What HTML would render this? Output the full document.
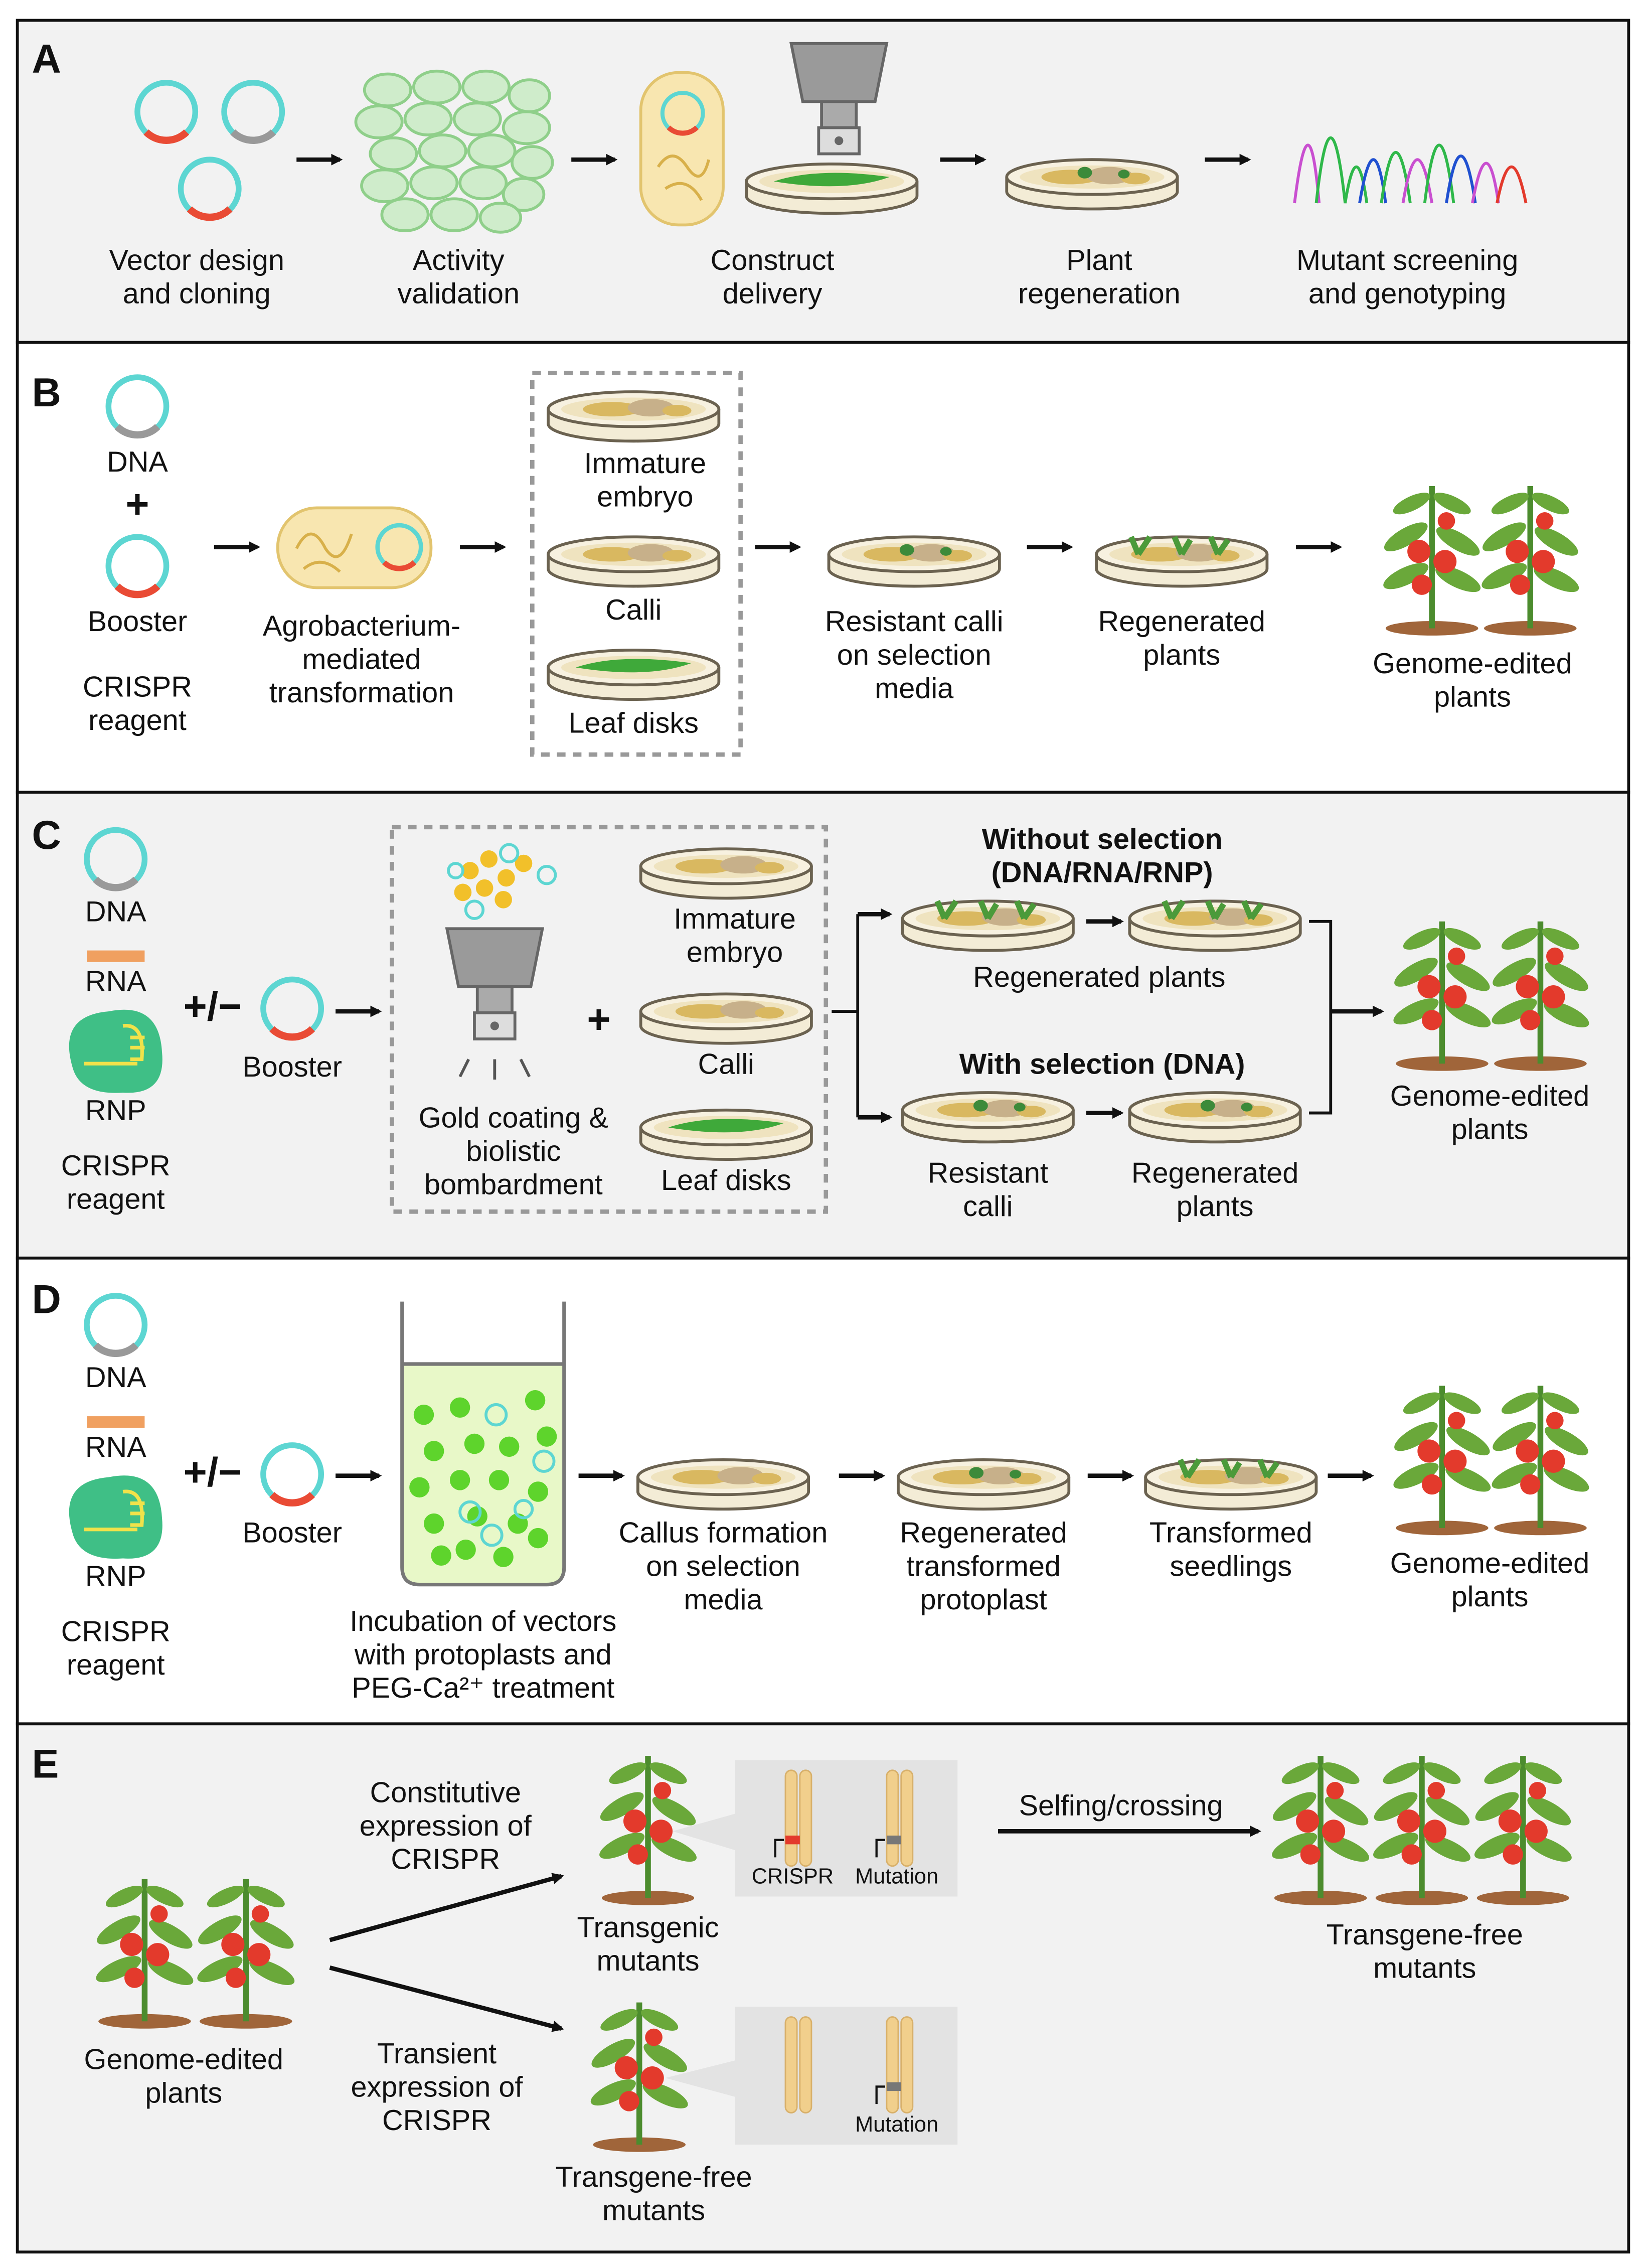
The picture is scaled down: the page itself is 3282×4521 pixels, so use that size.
<!DOCTYPE html>
<html><head><meta charset="utf-8"><style>
html,body{margin:0;padding:0;background:#fff}
svg{display:block}
text{font-family:"Liberation Sans",sans-serif;font-size:20px;fill:#111;text-anchor:middle}
.b{font-weight:bold}
.L{font-size:28px;font-weight:bold;text-anchor:start}
.s{font-size:15px}
</style></head><body>
<svg width="3282" height="4521" viewBox="0 0 1138 1563" preserveAspectRatio="none" xmlns="http://www.w3.org/2000/svg">
<defs>
<marker id="ah" markerWidth="8" markerHeight="8" refX="6" refY="4" orient="auto" markerUnits="userSpaceOnUse"><path d="M0,0 L8,4 L0,8 Z" fill="#111"/></marker>
<g id="pl"><circle r="20" fill="none" stroke="#5dd6d2" stroke-width="4"/><path d="M-14,14 A20,20 0 0 0 14,14" fill="none" stroke="#e94b35" stroke-width="5"/></g>
<g id="pg"><circle r="20" fill="none" stroke="#5dd6d2" stroke-width="4"/><path d="M-14,14 A20,20 0 0 0 14,14" fill="none" stroke="#999" stroke-width="5"/></g>
<g id="dish"><path d="M-59,0 L-59,10 A59,12 0 0 0 59,10 L59,0" fill="#f3ecd6" stroke="#6b6250" stroke-width="2"/><ellipse rx="59" ry="12" fill="#f7f1e0" stroke="#6b6250" stroke-width="2"/><ellipse rx="50" ry="8" fill="#efe3bf"/></g>
<g id="dc"><use href="#dish"/><ellipse cx="-15" cy="0" rx="20" ry="5" fill="#d9b860"/><ellipse cx="12" cy="-1" rx="16" ry="6" fill="#c7b08a"/><ellipse cx="30" cy="1" rx="10" ry="4" fill="#d9b860"/></g>
<g id="dl"><use href="#dish"/><path d="M-40,0 Q-10,-10 40,-3 Q10,8 -40,0Z" fill="#3fa93a"/></g>
<g id="dr"><use href="#dc"/><ellipse cx="-5" cy="-3" rx="5" ry="4" fill="#3c8a3a"/><ellipse cx="22" cy="-2" rx="4" ry="3" fill="#3c8a3a"/></g>
<g id="dp"><use href="#dc"/><path d="M-30,0 L-35,-12 M-30,0 L-22,-12 M0,0 L-5,-12 M0,0 L6,-10 M25,0 L20,-12 M25,0 L32,-10" stroke="#4b9a3a" stroke-width="4"/></g>
<g id="plant">
<ellipse cx="0" cy="-2" rx="32" ry="5" fill="#a0653a"/>
<path d="M0,-2 L0,-100" stroke="#4c8c2e" stroke-width="4"/>
<ellipse cx="-14" cy="-88" rx="14" ry="5" fill="#6aa83a" transform="rotate(-25 -14 -88)"/>
<ellipse cx="14" cy="-88" rx="14" ry="5" fill="#6aa83a" transform="rotate(25 14 -88)"/>
<ellipse cx="-18" cy="-65" rx="17" ry="6" fill="#6aa83a" transform="rotate(-30 -18 -65)"/>
<ellipse cx="18" cy="-62" rx="17" ry="6" fill="#6aa83a" transform="rotate(30 18 -62)"/>
<ellipse cx="-18" cy="-38" rx="17" ry="6" fill="#6aa83a" transform="rotate(-25 -18 -38)"/>
<ellipse cx="18" cy="-36" rx="17" ry="6" fill="#6aa83a" transform="rotate(25 18 -36)"/>
<circle cx="-9" cy="-55" r="8" fill="#e33a2c"/><circle cx="9" cy="-48" r="8" fill="#e33a2c"/><circle cx="-7" cy="-32" r="7" fill="#e33a2c"/><circle cx="10" cy="-76" r="6" fill="#e33a2c"/>
</g>
<g id="rna"><rect x="-20" y="-4" width="40" height="8" fill="#f0a060"/></g>
<g id="rnp"><path d="M-30,10 Q-40,-25 -5,-28 Q30,-35 32,0 Q35,30 5,28 Q-25,30 -30,10Z" fill="#3fbf86"/><path d="M5,-18 Q20,-20 18,5 L10,5 M10,-10 L20,-10 M10,-3 L20,-3" stroke="#f1e24a" stroke-width="2.5" fill="none"/><path d="M-22,8 L15,8" stroke="#f1e24a" stroke-width="2.5"/></g>
<g id="gun"><path d="M-33,0 L33,0 L25,40 L-25,40Z" fill="#9a9a9a" stroke="#666" stroke-width="2"/><rect x="-12" y="40" width="24" height="18" fill="#aaa" stroke="#666" stroke-width="2"/><rect x="-14" y="58" width="28" height="18" fill="#ddd" stroke="#666" stroke-width="2"/><circle cx="0" cy="67" r="3" fill="#666"/><path d="M-18,90 L-24,102 M0,90 L0,104 M18,90 L24,102" stroke="#555" stroke-width="2"/></g>
</defs>

<!-- panels -->
<rect x="12" y="14" width="1114" height="222" fill="#f2f2f2" stroke="#111" stroke-width="2"/>
<rect x="12" y="236" width="1114" height="310" fill="#fff" stroke="#111" stroke-width="2"/>
<rect x="12" y="546" width="1114" height="321" fill="#f2f2f2" stroke="#111" stroke-width="2"/>
<rect x="12" y="867" width="1114" height="321" fill="#fff" stroke="#111" stroke-width="2"/>
<rect x="12" y="1188" width="1114" height="364" fill="#f2f2f2" stroke="#111" stroke-width="2"/>

<g stroke="#111" stroke-width="3" marker-end="url(#ah)">
<line x1="205" y1="110" x2="235" y2="110"/><line x1="395" y1="110" x2="425" y2="110"/><line x1="650" y1="110" x2="680" y2="110"/><line x1="833" y1="110" x2="863" y2="110"/>
<line x1="148" y1="377" x2="178" y2="377"/><line x1="318" y1="377" x2="348" y2="377"/><line x1="522" y1="377" x2="552" y2="377"/><line x1="710" y1="377" x2="740" y2="377"/><line x1="896" y1="377" x2="926" y2="377"/>
<line x1="232" y1="697" x2="262" y2="697"/><line x1="593" y1="630" x2="615" y2="630"/><line x1="593" y1="770" x2="615" y2="770"/><line x1="751" y1="635" x2="775" y2="635"/><line x1="751" y1="767" x2="775" y2="767"/><line x1="920" y1="697" x2="955" y2="697"/>
<line x1="232" y1="1017" x2="262" y2="1017"/><line x1="400" y1="1017" x2="430" y2="1017"/><line x1="580" y1="1017" x2="610" y2="1017"/><line x1="752" y1="1017" x2="782" y2="1017"/><line x1="918" y1="1017" x2="948" y2="1017"/>
<line x1="228" y1="1337" x2="388" y2="1293"/><line x1="228" y1="1356" x2="388" y2="1398"/><line x1="690" y1="1262" x2="870" y2="1262"/>
</g>
<path d="M575,697 H593 V630 M593,697 V770 M905,635 H920 V767 H905" stroke="#111" stroke-width="2" fill="none"/>

<!-- A -->
<text x="22" y="50" class="L">A</text>
<use href="#pl" x="115" y="77"/><use href="#pg" x="175" y="77"/><use href="#pl" x="145" y="130"/>
<g fill="#cfeccb" stroke="#8fcf8a" stroke-width="2">
<ellipse cx="268" cy="62" rx="16" ry="11"/><ellipse cx="302" cy="60" rx="16" ry="11"/><ellipse cx="336" cy="60" rx="16" ry="11"/><ellipse cx="366" cy="66" rx="14" ry="11"/>
<ellipse cx="262" cy="84" rx="16" ry="11"/><ellipse cx="296" cy="82" rx="16" ry="11"/><ellipse cx="330" cy="82" rx="16" ry="11"/><ellipse cx="364" cy="88" rx="16" ry="11"/>
<ellipse cx="272" cy="106" rx="16" ry="11"/><ellipse cx="306" cy="104" rx="16" ry="11"/><ellipse cx="340" cy="104" rx="16" ry="11"/><ellipse cx="368" cy="112" rx="14" ry="11"/>
<ellipse cx="266" cy="128" rx="16" ry="11"/><ellipse cx="300" cy="126" rx="16" ry="11"/><ellipse cx="334" cy="126" rx="16" ry="11"/><ellipse cx="362" cy="134" rx="14" ry="11"/>
<ellipse cx="280" cy="148" rx="16" ry="11"/><ellipse cx="314" cy="148" rx="16" ry="11"/><ellipse cx="346" cy="150" rx="14" ry="10"/>
</g>
<rect x="443" y="50" width="57" height="105" rx="26" fill="#f8e6b0" stroke="#e2c46e" stroke-width="2"/>
<use href="#pl" x="472" y="78" transform="translate(472 78) scale(0.7) translate(-472 -78)"/>
<path d="M455,115 q10,-15 20,0 q10,15 15,-5 M460,130 q15,-10 25,8" stroke="#d8b04a" stroke-width="2" fill="none"/>
<use href="#gun" x="580" y="30"/>
<use href="#dl" x="575" y="125"/>
<use href="#dr" x="755" y="122"/>
<g fill="none" stroke-width="2">
<path d="M895,140 Q905,60 912,140" stroke="#c94fd0"/><path d="M910,140 Q920,50 930,140 Q938,90 945,140" stroke="#2fb84a"/><path d="M940,140 Q950,80 958,140" stroke="#2050d0"/><path d="M955,140 Q965,70 975,140" stroke="#2fb84a"/><path d="M970,140 Q980,80 990,140" stroke="#c94fd0"/><path d="M985,140 Q995,60 1005,140" stroke="#2fb84a"/><path d="M1000,140 Q1010,75 1020,140" stroke="#2050d0"/><path d="M1018,140 Q1028,85 1036,140" stroke="#c94fd0"/><path d="M1035,140 Q1045,90 1055,140" stroke="#e33a2c"/>
</g>
<text x="136" y="186">Vector design</text><text x="136" y="209">and cloning</text>
<text x="317" y="186">Activity</text><text x="317" y="209">validation</text>
<text x="534" y="186">Construct</text><text x="534" y="209">delivery</text>
<text x="760" y="186">Plant</text><text x="760" y="209">regeneration</text>
<text x="973" y="186">Mutant screening</text><text x="973" y="209">and genotyping</text>

<!-- B -->
<text x="22" y="280" class="L">B</text>
<use href="#pg" x="95" y="280"/><text x="95" y="325">DNA</text><text x="95" y="357" style="font-size:28px;font-weight:bold">+</text>
<use href="#pl" x="95" y="390"/><text x="95" y="435">Booster</text><text x="95" y="480">CRISPR</text><text x="95" y="503">reagent</text>
<rect x="192" y="350" width="106" height="55" rx="27" fill="#f8e6b0" stroke="#e2c46e" stroke-width="2"/>
<use href="#pl" transform="translate(276 377) scale(0.75)"/>
<path d="M205,378 q10,-20 20,0 q10,15 18,-10 M210,392 q12,-10 25,2" stroke="#d8b04a" stroke-width="2" fill="none"/>
<text x="250" y="438">Agrobacterium-</text><text x="250" y="461">mediated</text><text x="250" y="484">transformation</text>
<rect x="368" y="257" width="144" height="263" fill="none" stroke="#999" stroke-width="3" stroke-dasharray="6,5"/>
<use href="#dc" x="438" y="282"/><use href="#dc" x="438" y="382"/><use href="#dl" x="438" y="460"/>
<text x="446" y="326">Immature</text><text x="446" y="349">embryo</text><text x="438" y="427">Calli</text><text x="438" y="505">Leaf disks</text>
<use href="#dr" x="632" y="382"/><text x="632" y="435">Resistant calli</text><text x="632" y="458">on selection</text><text x="632" y="481">media</text>
<use href="#dp" x="817" y="382"/><text x="817" y="435">Regenerated</text><text x="817" y="458">plants</text>
<use href="#plant" x="990" y="435"/><use href="#plant" x="1058" y="435"/>
<text x="1018" y="464">Genome-edited</text><text x="1018" y="487">plants</text>

<!-- C -->
<text x="22" y="585" class="L">C</text>
<use href="#pg" x="80" y="592"/><text x="80" y="635">DNA</text>
<use href="#rna" x="80" y="659"/><text x="80" y="683">RNA</text>
<use href="#rnp" x="80" y="725"/><text x="80" y="772">RNP</text>
<text x="80" y="810">CRISPR</text><text x="80" y="833">reagent</text>
<text x="147" y="703" style="font-size:28px;font-weight:bold">+/−</text>
<use href="#pl" x="202" y="695"/><text x="202" y="742">Booster</text>
<rect x="271" y="570" width="300" height="265" fill="none" stroke="#999" stroke-width="3" stroke-dasharray="6,5"/>
<g><circle cx="325" cy="600" r="6" fill="#f2c02a"/><circle cx="338" cy="592" r="6" fill="#f2c02a"/><circle cx="350" cy="605" r="6" fill="#f2c02a"/><circle cx="335" cy="612" r="6" fill="#f2c02a"/><circle cx="362" cy="595" r="6" fill="#f2c02a"/><circle cx="348" cy="620" r="6" fill="#f2c02a"/><circle cx="320" cy="615" r="6" fill="#f2c02a"/>
<circle cx="352" cy="588" r="6" fill="none" stroke="#5dd6d2" stroke-width="2"/><circle cx="378" cy="603" r="6" fill="none" stroke="#5dd6d2" stroke-width="2"/><circle cx="328" cy="627" r="6" fill="none" stroke="#5dd6d2" stroke-width="2"/><circle cx="315" cy="600" r="5" fill="none" stroke="#5dd6d2" stroke-width="2"/></g>
<use href="#gun" x="342" y="640"/>
<text x="414" y="712" style="font-size:28px;font-weight:bold">+</text>
<text x="355" y="777">Gold coating &amp;</text><text x="355" y="800">biolistic</text><text x="355" y="823">bombardment</text>
<use href="#dc" x="502" y="597"/><use href="#dc" x="502" y="697"/><use href="#dl" x="502" y="777"/>
<text x="508" y="640">Immature</text><text x="508" y="663">embryo</text><text x="502" y="740">Calli</text><text x="502" y="820">Leaf disks</text>
<text x="762" y="585" class="b">Without selection</text><text x="762" y="608" class="b">(DNA/RNA/RNP)</text>
<use href="#dp" x="683" y="633"/><use href="#dp" x="840" y="633"/>
<text x="760" y="680">Regenerated plants</text>
<text x="762" y="740" class="b">With selection (DNA)</text>
<use href="#dr" x="683" y="765"/><use href="#dr" x="840" y="765"/>
<text x="683" y="815">Resistant</text><text x="683" y="838">calli</text><text x="840" y="815">Regenerated</text><text x="840" y="838">plants</text>
<use href="#plant" x="997" y="735"/><use href="#plant" x="1065" y="735"/>
<text x="1030" y="762">Genome-edited</text><text x="1030" y="785">plants</text>

<!-- D -->
<text x="22" y="905" class="L">D</text>
<use href="#pg" x="80" y="913"/><text x="80" y="956">DNA</text>
<use href="#rna" x="80" y="980"/><text x="80" y="1004">RNA</text>
<use href="#rnp" x="80" y="1046"/><text x="80" y="1093">RNP</text>
<text x="80" y="1131">CRISPR</text><text x="80" y="1154">reagent</text>
<text x="147" y="1024" style="font-size:28px;font-weight:bold">+/−</text>
<use href="#pl" x="202" y="1016"/><text x="202" y="1063">Booster</text>
<path d="M278,940 V1080 Q278,1092 290,1092 H378 Q390,1092 390,1080 V940Z" fill="#e8f8c8"/>
<path d="M278,897 V1080 Q278,1092 290,1092 H378 Q390,1092 390,1080 V897 M278,940 H390" fill="none" stroke="#777" stroke-width="2.5"/>
<g fill="#5ed42c"><circle cx="293" cy="975" r="7"/><circle cx="318" cy="970" r="7"/><circle cx="370" cy="965" r="7"/><circle cx="300" cy="1000" r="7"/><circle cx="328" cy="995" r="7"/><circle cx="352" cy="997" r="7"/><circle cx="378" cy="990" r="7"/><circle cx="290" cy="1025" r="7"/><circle cx="318" cy="1020" r="7"/><circle cx="345" cy="1020" r="7"/><circle cx="372" cy="1028" r="7"/><circle cx="300" cy="1050" r="7"/><circle cx="330" cy="1045" r="7"/><circle cx="358" cy="1050" r="7"/><circle cx="305" cy="1072" r="7"/><circle cx="322" cy="1068" r="7"/><circle cx="348" cy="1073" r="7"/><circle cx="372" cy="1060" r="7"/></g>
<g fill="none" stroke="#5dd6d2" stroke-width="2"><circle cx="343" cy="975" r="7"/><circle cx="376" cy="1007" r="7"/><circle cx="325" cy="1042" r="7"/><circle cx="340" cy="1058" r="7"/><circle cx="362" cy="1040" r="6"/></g>
<text x="334" y="1124">Incubation of vectors</text><text x="334" y="1147">with protoplasts and</text><text x="334" y="1170">PEG-Ca²⁺ treatment</text>
<use href="#dc" x="500" y="1018"/><text x="500" y="1063">Callus formation</text><text x="500" y="1086">on selection</text><text x="500" y="1109">media</text>
<use href="#dr" x="680" y="1018"/><text x="680" y="1063">Regenerated</text><text x="680" y="1086">transformed</text><text x="680" y="1109">protoplast</text>
<use href="#dp" x="851" y="1018"/><text x="851" y="1063">Transformed</text><text x="851" y="1086">seedlings</text>
<use href="#plant" x="997" y="1055"/><use href="#plant" x="1065" y="1055"/>
<text x="1030" y="1084">Genome-edited</text><text x="1030" y="1107">plants</text>

<!-- E -->
<text x="22" y="1225" class="L">E</text>
<use href="#plant" x="100" y="1395"/><use href="#plant" x="170" y="1395"/>
<text x="127" y="1426">Genome-edited</text><text x="127" y="1449">plants</text>
<text x="308" y="1242">Constitutive</text><text x="308" y="1265">expression of</text><text x="308" y="1288">CRISPR</text>
<text x="302" y="1422">Transient</text><text x="302" y="1445">expression of</text><text x="302" y="1468">CRISPR</text>
<use href="#plant" x="448" y="1310"/><text x="448" y="1335">Transgenic</text><text x="448" y="1358">mutants</text>
<use href="#plant" x="442" y="1480"/><text x="452" y="1507">Transgene-free</text><text x="452" y="1530">mutants</text>
<path d="M465,1262 L508,1250 L508,1275Z" fill="#e3e3e3"/>
<path d="M460,1432 L508,1420 L508,1445Z" fill="#e3e3e3"/>
<rect x="508" y="1213" width="154" height="94" fill="#e3e3e3"/>
<rect x="508" y="1383" width="154" height="95" fill="#e3e3e3"/>
<g fill="#f1cf8c" stroke="#d8b06a" stroke-width="1">
<rect x="543" y="1220" width="8" height="66" rx="4"/><rect x="553" y="1220" width="8" height="66" rx="4"/>
<rect x="613" y="1220" width="8" height="66" rx="4"/><rect x="623" y="1220" width="8" height="66" rx="4"/>
<rect x="543" y="1390" width="8" height="66" rx="4"/><rect x="553" y="1390" width="8" height="66" rx="4"/>
<rect x="613" y="1390" width="8" height="66" rx="4"/><rect x="623" y="1390" width="8" height="66" rx="4"/>
</g>
<rect x="543" y="1265" width="10" height="6" fill="#e33a2c"/><rect x="613" y="1265" width="10" height="6" fill="#777"/><rect x="613" y="1435" width="10" height="6" fill="#777"/>
<path d="M536,1280 V1268 H542 M606,1280 V1268 H612 M606,1450 V1438 H612" stroke="#111" stroke-width="1.5" fill="none"/>
<text x="548" y="1298" class="s">CRISPR</text><text x="620" y="1298" class="s">Mutation</text><text x="620" y="1469" class="s">Mutation</text>
<text x="775" y="1251">Selfing/crossing</text>
<use href="#plant" x="913" y="1310"/><use href="#plant" x="983" y="1310"/><use href="#plant" x="1053" y="1310"/>
<text x="985" y="1340">Transgene-free</text><text x="985" y="1363">mutants</text>
</svg>
</body></html>
